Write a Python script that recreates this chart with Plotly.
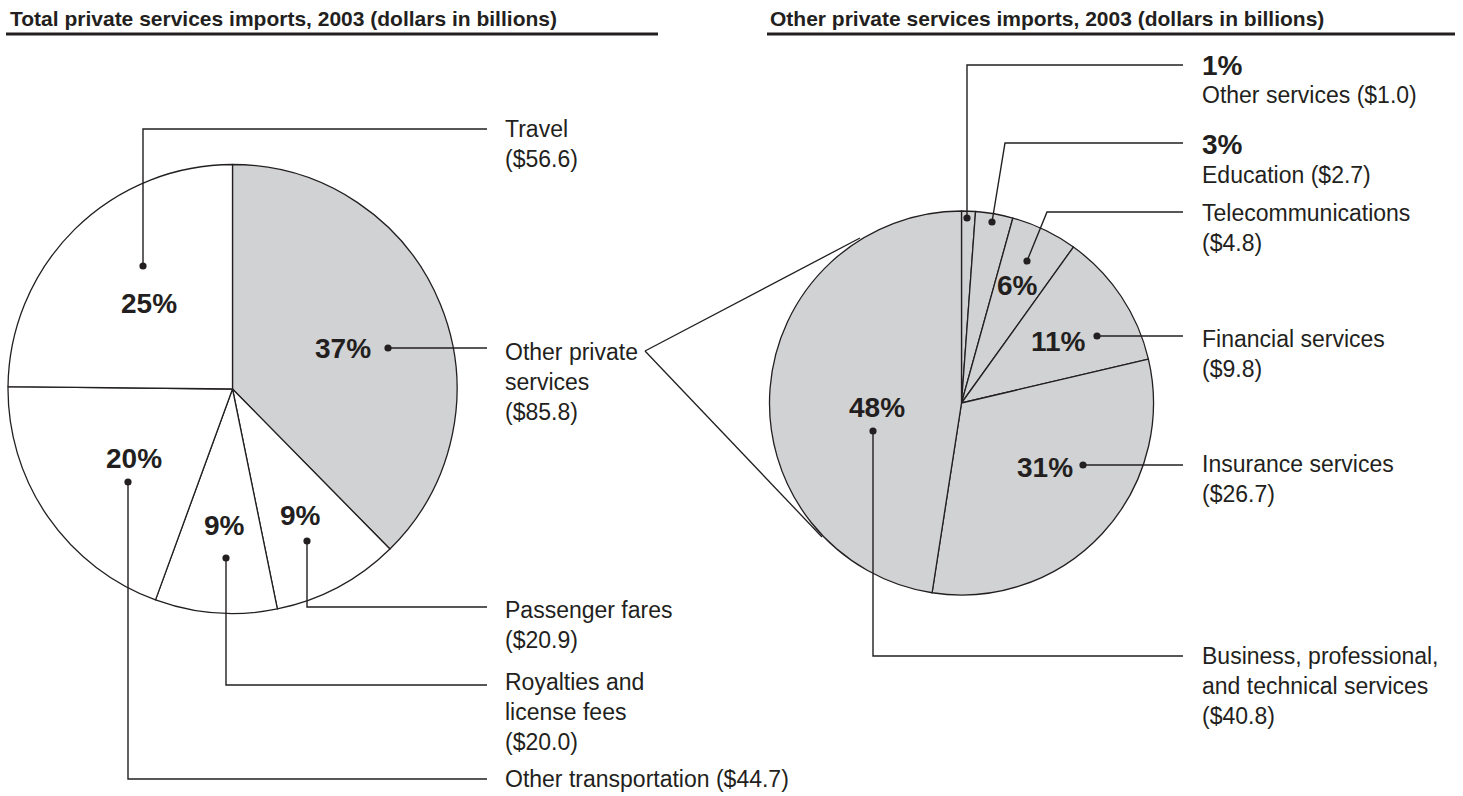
import plotly.graph_objects as go

# ---------------- data ----------------
left_labels = ["Other private services", "Passenger fares", "Royalties and license fees",
               "Other transportation", "Travel"]
left_values = [85.8, 20.9, 20.0, 44.7, 56.6]
left_pct = ["37%", "9%", "9%", "20%", "25%"]
left_text = ["Other private<br>services<br>", "Passenger fares<br>", "Royalties and<br>license fees<br>",
             "Other transportation ", "Travel<br>"]

right_labels = ["Other services", "Education", "Telecommunications", "Financial services",
                "Insurance services", "Business, professional, and technical services"]
right_values = [1.0, 2.7, 4.8, 9.8, 26.7, 40.8]
right_pct = ["1%", "3%", "6%", "11%", "31%", "48%"]
right_text = ["Other services ", "Education ", "Telecommunications<br>", "Financial services<br>",
              "Insurance services<br>", "Business, professional,<br>and technical services<br>"]

left_title = "Total private services imports, 2003 (dollars in billions)"
right_title = "Other private services imports, 2003 (dollars in billions)"

# ---------------- style / layout positions (pixels) ----------------
W, H = 1463, 796
INK = "#231f20"
GRAY = "#d1d2d4"
FONT = "Liberation Sans, Arial, Helvetica, sans-serif"

LEFT_PIE = (232.5, 389, 224.5)
RIGHT_PIE = (961.5, 403, 192)

# per slice: pct-label centre, dot, leader path (after dot), label anchor (x, y middle)
left_pos = [
    dict(pct=(343, 348), dot=(388, 348), path=[(487, 348)], lab=(503, 382)),
    dict(pct=(300, 515), dot=(307, 541), path=[(307, 607), (487, 607)], lab=(503, 625)),
    dict(pct=(224, 525), dot=(226, 558), path=[(226, 685), (487, 685)], lab=(503, 712)),
    dict(pct=(134, 458), dot=(128, 482), path=[(128, 779), (487, 779)], lab=(503, 779)),
    dict(pct=(149, 303), dot=(143, 266), path=[(143, 129), (487, 129)], lab=(503, 144)),
]
right_pos = [
    dict(pct=(1200, 66), dot=(967, 218), path=[(967, 65), (1183, 65)], lab=(1200, 95), top=True),
    dict(pct=(1200, 144), dot=(992, 222), path=[(1005, 143), (1183, 143)], lab=(1200, 175), top=True),
    dict(pct=(1018, 285), dot=(1027, 261), path=[(1047, 212), (1183, 212)], lab=(1200, 228)),
    dict(pct=(1058, 342), dot=(1097, 336), path=[(1183, 336)], lab=(1200, 354)),
    dict(pct=(1045, 467), dot=(1083, 465), path=[(1183, 465)], lab=(1200, 479)),
    dict(pct=(877, 407), dot=(873, 431), path=[(873, 656), (1183, 656)], lab=(1200, 686)),
]
WEDGE_APEX = (645, 351)
WEDGE_ENDS = [(860, 238), (822, 537)]


def px(x):
    return x / W


def py(y):
    return 1 - y / H


def dom(cx, cy, r):
    return dict(x=[px(cx - r), px(cx + r)], y=[py(cy + r), py(cy - r)])


fig = go.Figure()
fig.add_trace(go.Pie(
    labels=left_labels, values=left_values, sort=False, direction="clockwise", rotation=0,
    textinfo="none", hoverinfo="label+value+percent",
    marker=dict(colors=[GRAY] + ["white"] * 4, line=dict(color=INK, width=1.3)),
    domain=dom(*LEFT_PIE), showlegend=False))
fig.add_trace(go.Pie(
    labels=right_labels, values=right_values, sort=False, direction="clockwise", rotation=0,
    textinfo="none", hoverinfo="label+value+percent",
    marker=dict(colors=[GRAY] * 6, line=dict(color=INK, width=1.3)),
    domain=dom(*RIGHT_PIE), showlegend=False))

shapes = []
annotations = []


def leader(pos):
    pts = [pos["dot"]] + pos["path"]
    d = "M " + " L ".join(f"{px(x)},{py(y)}" for x, y in pts)
    shapes.append(dict(type="path", path=d, xref="paper", yref="paper",
                       line=dict(color=INK, width=1.4)))
    x, y = pos["dot"]
    r = 3.6
    shapes.append(dict(type="circle", xref="paper", yref="paper",
                       x0=px(x - r), x1=px(x + r), y0=py(y + r), y1=py(y - r),
                       fillcolor=INK, line=dict(color=INK, width=0)))


def text(x, y, s, size, bold=False, anchor="left"):
    annotations.append(dict(x=px(x), y=py(y), xref="paper", yref="paper", text=s,
                            showarrow=False, xanchor=anchor, yanchor="middle", align="left",
                            font=dict(family=FONT, size=size, color=INK,
                                      weight="bold" if bold else "normal")))


for pos, pct, lab, val in zip(left_pos, left_pct, left_text, left_values):
    leader(pos)
    text(pos["pct"][0], pos["pct"][1], pct, 28, bold=True, anchor="center")
    text(pos["lab"][0], pos["lab"][1], f"{lab}(${val:.1f})", 23)

for pos, pct, lab, val in zip(right_pos, right_pct, right_text, right_values):
    leader(pos)
    if pos.get("top"):
        text(pos["pct"][0], pos["pct"][1], pct, 28, bold=True, anchor="left")
    else:
        text(pos["pct"][0], pos["pct"][1], pct, 28, bold=True, anchor="center")
    text(pos["lab"][0], pos["lab"][1], f"{lab}(${val:.1f})", 23)

# wedge connecting the two pies
for ex, ey in WEDGE_ENDS:
    shapes.append(dict(type="line", xref="paper", yref="paper",
                       x0=px(WEDGE_APEX[0]), y0=py(WEDGE_APEX[1]), x1=px(ex), y1=py(ey),
                       line=dict(color=INK, width=1.3)))

# titles with underlines
text(8, 18, left_title, 21, bold=True)
text(768, 18, right_title, 21, bold=True)
for x0, x1 in [(6, 658), (767, 1455)]:
    shapes.append(dict(type="line", xref="paper", yref="paper",
                       x0=px(x0), x1=px(x1), y0=py(34), y1=py(34),
                       line=dict(color=INK, width=3)))

fig.update_layout(width=W, height=H, margin=dict(l=0, r=0, t=0, b=0),
                  paper_bgcolor="white", plot_bgcolor="white",
                  shapes=shapes, annotations=annotations, showlegend=False)

fig.write_html("out.html", config={"displayModeBar": False})
